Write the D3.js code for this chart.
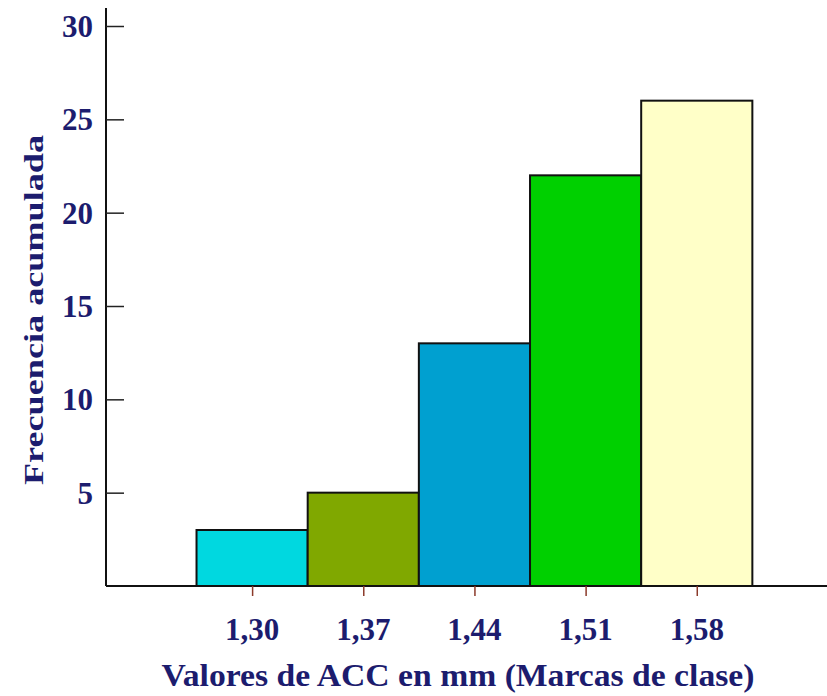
<!DOCTYPE html>
<html>
<head>
<meta charset="utf-8">
<script src="https://cdn.jsdelivr.net/npm/d3@7"></script>
<style>
  body { margin: 0; background: #fff; }
  text { font-family: "Liberation Serif", "DejaVu Serif", serif; font-weight: bold; fill: #1c1c6e; }
</style>
</head>
<body>
<div id="chart"></div>
<script>
// class marks (mm) and cumulative frequency
var marcas = [1.30, 1.37, 1.44, 1.51, 1.58];
var marcaLabels = ["1,30", "1,37", "1,44", "1,51", "1,58"];
var frecAcum = [3, 5, 13, 22, 26];
var barColors = ["#00d8e0", "#80a800", "#00a0d0", "#00d000", "#ffffc8"];
var yTicks = [5, 10, 15, 20, 25, 30];
var classWidth = 0.07;

var width = 827, height = 696;

var svg = d3.select("#chart")
            .append("svg")
            .attr("width", width)
            .attr("height", height);

// scales
var x = d3.scaleLinear()
            .domain([1.208, 1.662])
            .range([106, 827]);

var y = d3.scaleLinear()
            .domain([0, 30])
            .range([586, 26]);

// bars
svg.selectAll("rect.bar")
    .data(frecAcum)
    .enter()
    .append("rect")
    .attr("class", "bar")
    .attr("x", function(d, i) { return x(marcas[i] - classWidth / 2); })
    .attr("width", function(d, i) { return x(marcas[i] + classWidth / 2) - x(marcas[i] - classWidth / 2); })
    .attr("y", function(d) { return y(d); })
    .attr("height", function(d) { return y(0) - y(d); })
    .attr("fill", function(d, i) { return barColors[i]; })
    .attr("stroke", "#111")
    .attr("stroke-width", 2);

// y axis (ticks point inward)
var yAxis = svg.append("g")
    .attr("transform", "translate(106,0)")
    .call(d3.axisRight(y).tickValues(yTicks).tickSize(18).tickFormat(""));
yAxis.select(".domain").attr("d", "M0,8V" + y(0)).attr("stroke", "#111").attr("stroke-width", 2);
yAxis.selectAll(".tick line").attr("stroke", "#222").attr("stroke-width", 1.5);

svg.selectAll("text.ylab")
    .data(yTicks)
    .enter()
    .append("text")
    .attr("class", "ylab")
    .attr("x", 93)
    .attr("y", function(d) { return y(d) + 11; })
    .attr("text-anchor", "end")
    .style("font-size", "31px")
    .text(function(d) { return d; });

// x axis
var xAxis = svg.append("g")
    .attr("transform", "translate(0," + y(0) + ")")
    .call(d3.axisBottom(x).tickValues(marcas).tickSize(10).tickFormat(""));
xAxis.select(".domain").attr("d", "M106,0H827").attr("stroke", "#111").attr("stroke-width", 2);
xAxis.selectAll(".tick line").attr("stroke", "#8b3a2a").attr("stroke-width", 1.5);

svg.selectAll("text.xlab")
    .data(marcas)
    .enter()
    .append("text")
    .attr("class", "xlab")
    .attr("x", function(d) { return x(d); })
    .attr("y", 640)
    .attr("text-anchor", "middle")
    .style("font-size", "31px")
    .text(function(d, i) { return marcaLabels[i]; });

// axis titles
svg.append("text")
    .attr("x", 458)
    .attr("y", 686)
    .attr("text-anchor", "middle")
    .attr("textLength", 593)
    .attr("lengthAdjust", "spacingAndGlyphs")
    .style("font-size", "31px")
    .text("Valores de ACC en mm (Marcas de clase)");

svg.append("text")
    .attr("transform", "translate(43,310) rotate(-90)")
    .attr("text-anchor", "middle")
    .attr("textLength", 350)
    .attr("lengthAdjust", "spacingAndGlyphs")
    .style("font-size", "28px")
    .text("Frecuencia acumulada");
</script>
</body>
</html>
